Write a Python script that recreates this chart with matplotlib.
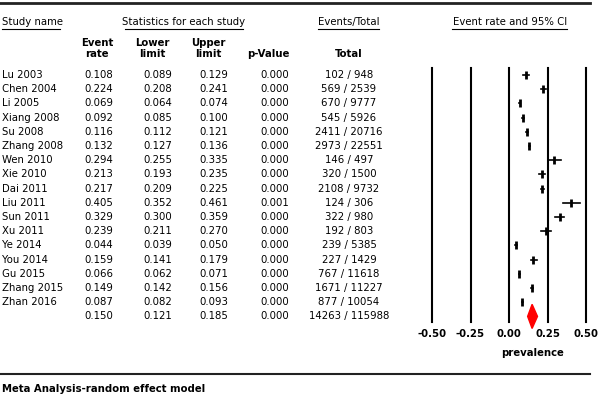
import matplotlib.pyplot as plt
from matplotlib.patches import Polygon

studies = ["Lu 2003", "Chen 2004", "Li 2005", "Xiang 2008", "Su 2008", "Zhang 2008",
           "Wen 2010", "Xie 2010", "Dai 2011", "Liu 2011", "Sun 2011", "Xu 2011",
           "Ye 2014", "You 2014", "Gu 2015", "Zhang 2015", "Zhan 2016"]
rate = [0.108, 0.224, 0.069, 0.092, 0.116, 0.132, 0.294, 0.213, 0.217, 0.405,
        0.329, 0.239, 0.044, 0.159, 0.066, 0.149, 0.087]
lower = [0.089, 0.208, 0.064, 0.085, 0.112, 0.127, 0.255, 0.193, 0.209, 0.352,
         0.300, 0.211, 0.039, 0.141, 0.062, 0.142, 0.082]
upper = [0.129, 0.241, 0.074, 0.100, 0.121, 0.136, 0.335, 0.235, 0.225, 0.461,
         0.359, 0.270, 0.050, 0.179, 0.071, 0.156, 0.093]
pval = [0.000] * 9 + [0.001] + [0.000] * 7
events = [102, 569, 670, 545, 2411, 2973, 146, 320, 2108, 124, 322, 192, 239, 227, 767, 1671, 877]
totals = [948, 2539, 9777, 5926, 20716, 22551, 497, 1500, 9732, 306, 980, 803, 5385, 1429, 11618, 11227, 10054]
pooled = (0.150, 0.121, 0.185, 0.000, 14263, 115988)
xticks = [-0.50, -0.25, 0.00, 0.25, 0.50]

W, H = 600, 395
fig = plt.figure(figsize=(6, 3.95), dpi=100)
bg = fig.add_axes([0, 0, 1, 1])
bg.set_xlim(0, W)
bg.set_ylim(H, 0)
bg.axis("off")

fs = 7.3
row0, dy = 75, 14.2

def txt(x, y, s, ha="left", bold=False, underline=None):
    t = bg.text(x, y, s, ha=ha, va="center", fontsize=fs,
                fontweight="bold" if bold else "normal", family="DejaVu Sans")
    if underline:
        bg.plot(underline, [y + 6.5, y + 6.5], color="black", lw=0.8)
    return t

# rules
bg.plot([0, 590], [3, 3], color="#222222", lw=2)
bg.plot([0, 590], [374, 374], color="#222222", lw=1.5)

# headers
txt(2, 22, "Study name", underline=(2, 60))
txt(184, 22, "Statistics for each study", ha="center", underline=(125, 243))
txt(349, 22, "Events/Total", ha="center", underline=(318, 379))
txt(510, 22, "Event rate and 95% CI", ha="center", underline=(452, 567))
for cx, l1, l2 in [(97, "Event", "rate"), (152, "Lower", "limit"), (208, "Upper", "limit")]:
    txt(cx, 43, l1, ha="center", bold=True)
    txt(cx, 54, l2, ha="center", bold=True)
txt(268, 54, "p-Value", ha="center", bold=True)
txt(349, 54, "Total", ha="center", bold=True)

cols_right = [113, 172, 228, 289]
for i, name in enumerate(studies):
    y = row0 + i * dy
    txt(2, y, name)
    for xr, v in zip(cols_right, [rate[i], lower[i], upper[i], pval[i]]):
        txt(xr, y, f"{v:.3f}", ha="right")
    txt(349, y, f"{events[i]} / {totals[i]}", ha="center")

ys = row0 + len(studies) * dy
for xr, v in zip(cols_right, pooled[:4]):
    txt(xr, ys, f"{v:.3f}", ha="right")
txt(349, ys, f"{pooled[4]} / {pooled[5]}", ha="center")

txt(2, 389, "Meta Analysis-random effect model", bold=True)

# forest plot
x0, x1 = 432, 586
ytop, ybot = 68, 322
ax = fig.add_axes([x0 / W, 1 - ybot / H, (x1 - x0) / W, (ybot - ytop) / H])
ax.set_xlim(-0.5, 0.5)
ax.set_ylim((ybot - row0) / dy, (ytop - row0) / dy)
ax.axis("off")
for t in xticks:
    ax.axvline(t, color="black", lw=1.5, clip_on=False)
for i in range(len(studies)):
    ax.plot([lower[i], upper[i]], [i, i], color="black", lw=1.2, clip_on=False)
    ax.plot(rate[i], i, marker="|", color="black", ms=6, mew=2, clip_on=False)
n = len(studies)
ax.add_patch(Polygon([[pooled[1], n], [pooled[0], n - 0.85], [pooled[2], n], [pooled[0], n + 0.85]],
                     closed=True, color="red", zorder=3, clip_on=False))

for t in xticks:
    px = x0 + (t + 0.5) * (x1 - x0)
    txt(px, 334, f"{t:.2f}", ha="center", bold=True)
txt(x0 + 0.65 * (x1 - x0), 353, "prevalence", ha="center", bold=True)

fig.savefig("out.png", dpi=100)
